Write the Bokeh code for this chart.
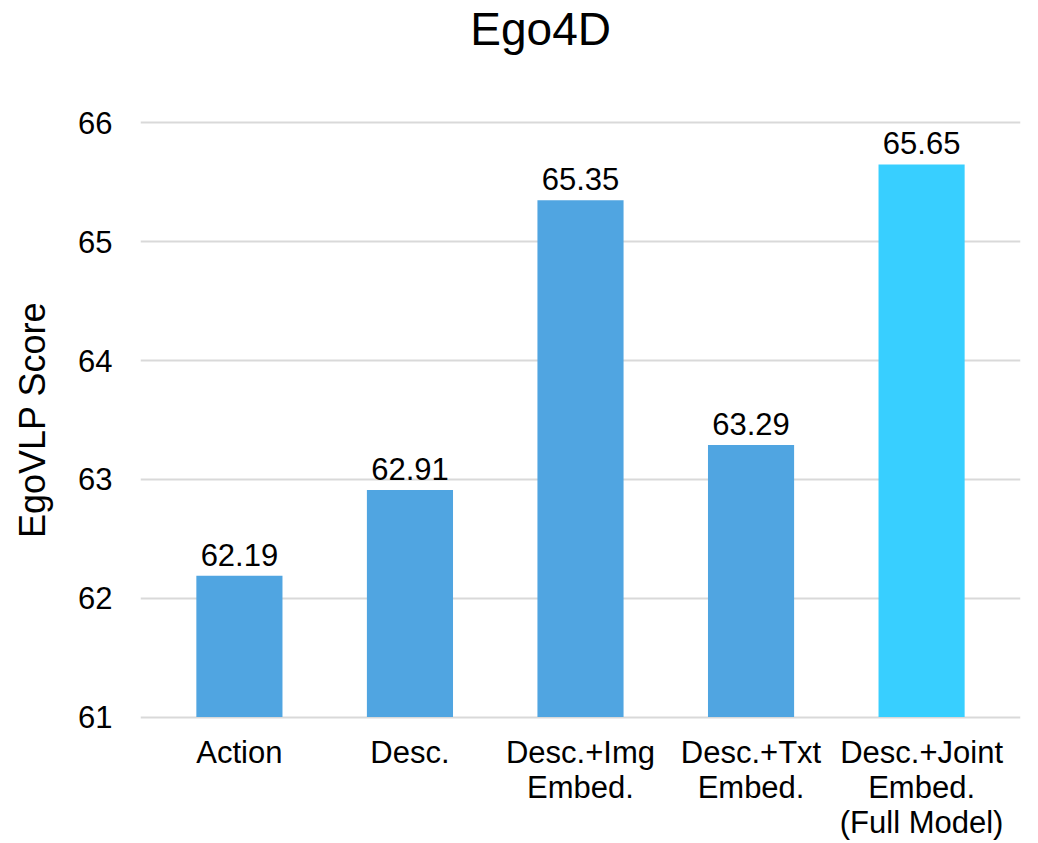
from bokeh.plotting import figure
from bokeh.layouts import column
from bokeh.models import ColumnDataSource, LabelSet, FixedTicker, Range1d
from bokeh.core.properties import value
from bokeh.embed import file_html
from bokeh.resources import INLINE

title = "Ego4D"
y_label = "EgoVLP Score"
categories = ["Action", "Desc.", "Desc.+Img\nEmbed.", "Desc.+Txt\nEmbed.", "Desc.+Joint\nEmbed.\n(Full Model)"]
scores = [62.19, 62.91, 65.35, 63.29, 65.65]
labels = ["62.19", "62.91", "65.35", "63.29", "65.65"]
colors = ["#50A5E1", "#50A5E1", "#50A5E1", "#50A5E1", "#38CFFF"]
yticks = [61, 62, 63, 64, 65, 66]
y_base = 61

FONT = "Liberation Sans"
W, H_TITLE, H_MAIN = 1038, 64, 779

# ---- title strip ----
t = figure(width=W, height=H_TITLE, output_backend="svg", toolbar_location=None,
           x_range=Range1d(0, W), y_range=Range1d(0, H_TITLE),
           min_border=0, min_border_left=0, min_border_right=0, min_border_top=0, min_border_bottom=0)
t.outline_line_color = None
t.axis.visible = False
t.grid.visible = False
t.text(x=[W / 2 - 47], y=[H_TITLE / 2 + 4], text=[title], text_align="center", text_baseline="middle",
       text_font=value(FONT), text_font_size="46px", text_color="#000000")

# ---- main chart ----
xs = list(range(len(categories)))
src = ColumnDataSource(dict(x=xs, top=scores, lab=labels, color=colors))

p = figure(width=W, height=H_MAIN, output_backend="svg", toolbar_location=None,
           x_range=Range1d(-0.58, 4.58), y_range=Range1d(60.98, 66.02),
           min_border_left=140, min_border_right=18, min_border_top=56, min_border_bottom=124)
p.outline_line_color = None

p.vbar(x="x", top="top", bottom=y_base, width=0.505, fill_color="color", line_color=None, source=src)
p.add_layout(LabelSet(x="x", y="top", text="lab", source=src, y_offset=10, text_align="center",
                      text_baseline="bottom", text_font=value(FONT), text_font_size="31px",
                      text_color="#000000"))

p.xgrid.grid_line_color = None
p.ygrid.grid_line_color = "#d9d9d9"
p.ygrid.grid_line_width = 2
p.ygrid.ticker = FixedTicker(ticks=yticks)

p.yaxis.ticker = FixedTicker(ticks=yticks)
p.yaxis.axis_line_color = None
p.yaxis.major_tick_line_color = None
p.yaxis.minor_tick_line_color = None
p.yaxis.major_label_text_font = FONT
p.yaxis.major_label_text_font_size = "31px"
p.yaxis.major_label_text_color = "#000000"
p.yaxis.major_label_standoff = 22
p.yaxis.axis_label = y_label
p.yaxis.axis_label_text_font = FONT
p.yaxis.axis_label_text_font_size = "36px"
p.yaxis.axis_label_text_font_style = "normal"
p.yaxis.axis_label_text_color = "#000000"
p.yaxis.axis_label_standoff = 22

p.xaxis.ticker = FixedTicker(ticks=xs)
p.xaxis.major_label_overrides = {i: c for i, c in enumerate(categories)}
p.xaxis.axis_line_color = None
p.xaxis.major_tick_line_color = None
p.xaxis.minor_tick_line_color = None
p.xaxis.major_label_text_font = FONT
p.xaxis.major_label_text_font_size = "31px"
p.xaxis.major_label_text_color = "#000000"
p.xaxis.major_label_text_line_height = 1.0
p.xaxis.major_label_standoff = 9

layout = column(t, p, spacing=0)
open("out.html", "w").write(file_html(layout, INLINE))
